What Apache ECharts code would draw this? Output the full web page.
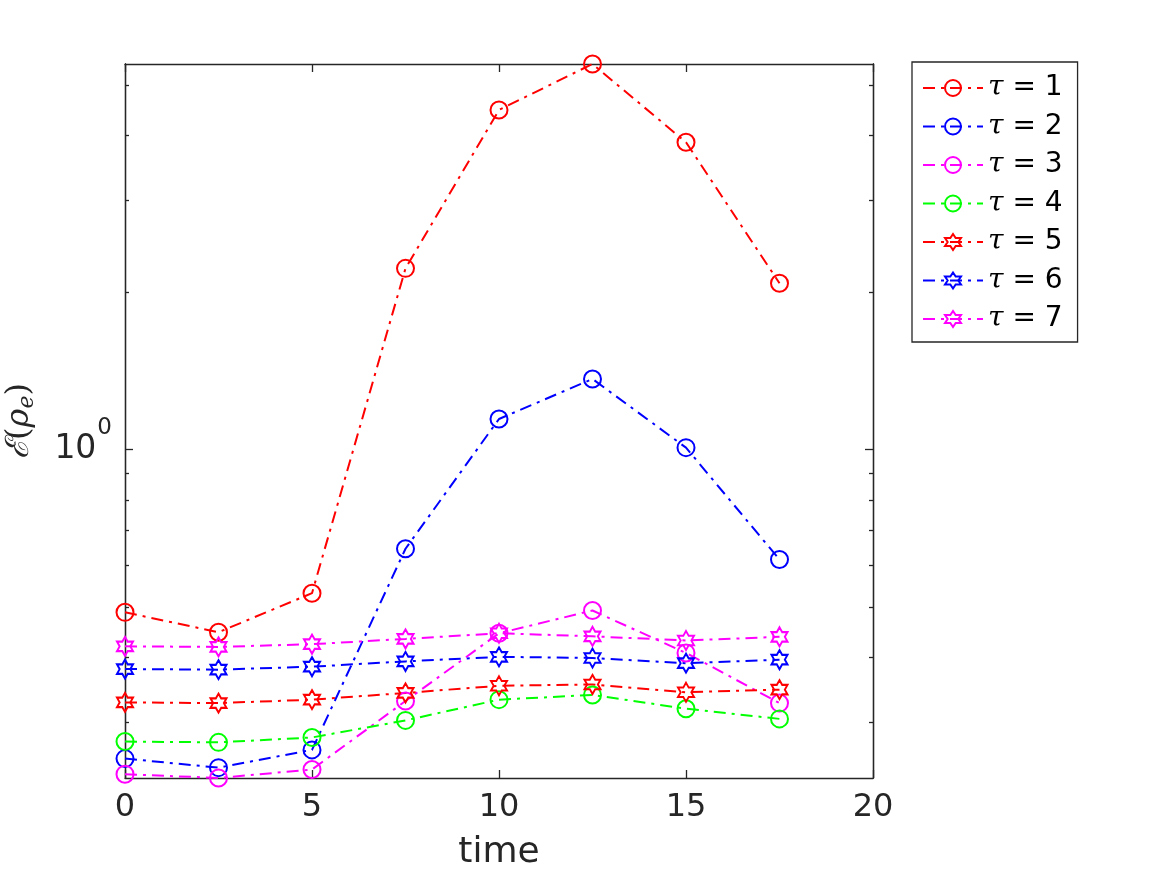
<!DOCTYPE html>
<html>
<head>
<meta charset="utf-8">
<title>E(rho_e) over time</title>
<script src="https://cdn.jsdelivr.net/npm/echarts@6/dist/echarts.min.js"></script>
<style>
  html, body { margin: 0; padding: 0; background: #fff; }
  #chart { width: 1167px; height: 875px; }
</style>
</head>
<body>
<div id="chart"></div>
<script>
// values
const times = [0, 2.5, 5, 7.5, 10, 12.5, 15, 17.5]
const tau1 = [0.488, 0.447, 0.531, 2.225, 4.475, 5.48, 3.88, 2.083]
const tau2 = [0.256, 0.246, 0.266, 0.646, 1.145, 1.366, 1.009, 0.616]
const tau3 = [0.239, 0.235, 0.244, 0.330, 0.445, 0.492, 0.408, 0.327]
const tau4 = [0.276, 0.275, 0.281, 0.303, 0.332, 0.339, 0.319, 0.305]
const tau5 = [0.328, 0.327, 0.332, 0.342, 0.353, 0.355, 0.343, 0.347]
const tau6 = [0.380, 0.379, 0.384, 0.393, 0.401, 0.399, 0.390, 0.396]
const tau7 = [0.420, 0.419, 0.424, 0.434, 0.445, 0.439, 0.431, 0.438]
const tauNames = ['τ = 1', 'τ = 2', 'τ = 3', 'τ = 4', 'τ = 5', 'τ = 6', 'τ = 7']
const xTicks = [0, 5, 10, 15, 20]
const yMajorTicks = [1]
const yMinorTicks = [0.3, 0.4, 0.5, 0.6, 0.7, 0.8, 0.9, 2, 3, 4, 5]

const allSeries = [tau1, tau2, tau3, tau4, tau5, tau6, tau7]
const colors = ['#ff0000', '#0000ff', '#ff00ff', '#00ff00', '#ff0000', '#0000ff', '#ff00ff']
const hexagram = 'path://M87 0L116 50L174 50L145 100L174 150L116 150L87 200L58 150L0 150L29 100L0 50L58 50Z'
const markers = ['circle', 'circle', 'circle', 'circle', hexagram, hexagram, hexagram]

const axisColor = '#262626'
const font = "'DejaVu Sans', sans-serif"

// log axis done by hand: plot log10 of values on a value axis
const lg = v => Math.log10(v)
const flat = [].concat(...allSeries)
const yMin = lg(Math.min(...flat))
const yMax = lg(Math.max(...flat))

const lineStyle = { color: axisColor, width: 1.3 }

const yAxisBase = (position, tickValues, len) => ({
    type: 'value',
    position: position,
    min: yMin,
    max: yMax,
    splitLine: { show: false },
    axisLine: { show: true, onZero: false, lineStyle: lineStyle },
    axisTick: { show: true, inside: true, length: len, customValues: tickValues.map(lg), lineStyle: lineStyle },
    axisLabel: { show: false }
})

const xAxisBase = (position) => ({
    type: 'value',
    position: position,
    min: xTicks[0],
    max: xTicks[xTicks.length - 1],
    interval: 5,
    splitLine: { show: false },
    axisLine: { show: true, onZero: false, lineStyle: lineStyle },
    axisTick: { show: true, inside: true, length: 8, lineStyle: lineStyle },
    axisLabel: { show: false }
})

const xBottom = xAxisBase('bottom')
xBottom.axisLabel = { show: true, color: axisColor, fontFamily: font, fontSize: 32, margin: 14 }
xBottom.name = 'time'
xBottom.nameLocation = 'middle'
xBottom.nameGap = 57
xBottom.nameTextStyle = { color: axisColor, fontFamily: font, fontSize: 36 }

const yLeft = yAxisBase('left', yMinorTicks, 4)
yLeft.axisLabel = {
    show: true,
    customValues: yMajorTicks.map(lg),
    margin: 13,
    formatter: v => '{b|10}{s|' + Math.round(v) + '}',
    rich: {
        b: { fontFamily: font, fontSize: 33, color: axisColor, lineHeight: 33, padding: [10, 0, 10, 0], verticalAlign: 'middle' },
        s: { fontFamily: font, fontSize: 23, color: axisColor, lineHeight: 23, padding: [0, 0, 44, 1], verticalAlign: 'middle' }
    }
}
yLeft.name = '{e|ℰ}{p|(}{r|ρ}{sub|e}{p|)}'
yLeft.nameLocation = 'middle'
yLeft.nameGap = 85
yLeft.nameTextStyle = {
    rich: {
        e: { fontFamily: 'DejaVu Serif', fontStyle: 'italic', fontSize: 32, color: axisColor, lineHeight: 40 },
        p: { fontFamily: 'DejaVu Serif', fontSize: 32, color: axisColor, lineHeight: 40 },
        r: { fontFamily: 'DejaVu Serif', fontStyle: 'italic', fontSize: 32, color: axisColor, lineHeight: 40 },
        sub: { fontFamily: 'DejaVu Serif', fontStyle: 'italic', fontSize: 22, color: axisColor, lineHeight: 26, padding: [14, 0, 0, 0] }
    }
}

const series = allSeries.map((vals, i) => ({
    name: tauNames[i],
    type: 'line',
    clip: false,
    data: times.map((t, j) => [t, lg(vals[j])]),
    symbol: markers[i],
    symbolSize: markers[i] === 'circle' ? 17 : [16, 19],
    showAllSymbol: true,
    lineStyle: { color: colors[i], width: 2, type: [12, 6, 3, 6] },
    itemStyle: { color: 'none', borderColor: colors[i], borderWidth: 2 },
    emphasis: { disabled: true },
    animation: false
}))

const option = {
    backgroundColor: '#fff',
    animation: false,
    grid: { left: 125, right: 294, top: 64, bottom: 97, outerBoundsMode: 'none' },
    xAxis: [xBottom, xAxisBase('top')],
    yAxis: [yLeft, yAxisBase('left', yMajorTicks, 8), yAxisBase('right', yMinorTicks, 4), yAxisBase('right', yMajorTicks, 8)],
    legend: {
        orient: 'vertical',
        left: 912,
        top: 62,
        padding: [12, 15, 9, 10],
        borderColor: axisColor,
        borderWidth: 1.3,
        backgroundColor: '#fff',
        itemWidth: 60,
        itemHeight: 20,
        itemGap: 10.5,
        selectedMode: false,
        formatter: name => '{t|τ}' + name.slice(1),
        textStyle: {
            fontFamily: font,
            fontSize: 28,
            lineHeight: 26,
            color: '#000',
            rich: { t: { fontFamily: 'DejaVu Serif', fontStyle: 'italic', fontSize: 28, lineHeight: 26 } }
        },
        data: tauNames
    },
    series: series
}

const chart = echarts.init(document.getElementById('chart'))
chart.setOption(option)
</script>
</body>
</html>
